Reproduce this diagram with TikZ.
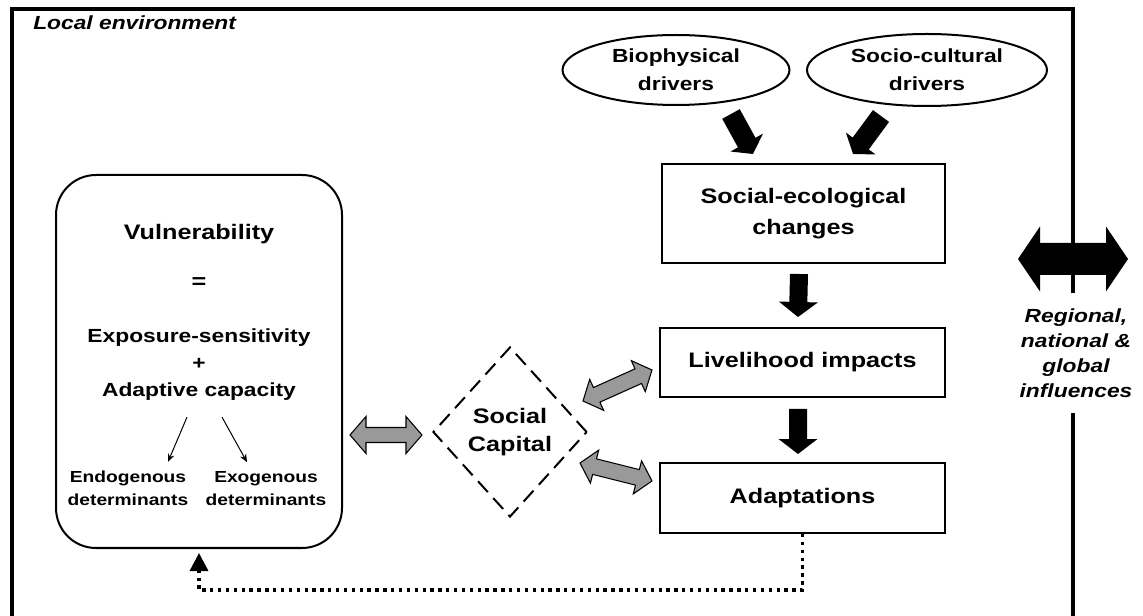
\documentclass[tikz,border=0pt]{standalone}
\usepackage{fontspec}
\setmainfont{Liberation Sans}[FakeStretch=1.2]
\usetikzlibrary{shapes.geometric,arrows.meta,calc}

% one drawing unit = 0.75pt
\newdimen\pxu \pxu=0.75pt
\definecolor{arrowgray}{rgb}{0.6,0.6,0.6}

% filled block arrow from #2 to #3 (shaft half-width #4, head half-width #5, head length #6)
\newcommand\blockarrow[6]{%
  \path let \p1=(#2), \p2=(#3) in \pgfextra{%
    \pgfmathsetmacro\baang{atan2(\y2-\y1,\x2-\x1)}%
    \pgfmathsetmacro\balen{veclen(\x2-\x1,\y2-\y1)/0.75}%
    \global\let\baAng\baang \global\let\baLen\balen};
  \begin{scope}[shift={(#2)},rotate=\baAng]
    \path[#1] (0,#4) -- ({\baLen-#6},#4) -- ({\baLen-#6},#5) -- (\baLen,0)
      -- ({\baLen-#6},-#5) -- ({\baLen-#6},-#4) -- (0,-#4) -- cycle;
  \end{scope}}

% filled two-headed block arrow between #2 and #3
\newcommand\twowayarrow[6]{%
  \path let \p1=(#2), \p2=(#3) in \pgfextra{%
    \pgfmathsetmacro\baang{atan2(\y2-\y1,\x2-\x1)}%
    \pgfmathsetmacro\balen{veclen(\x2-\x1,\y2-\y1)/0.75}%
    \global\let\baAng\baang \global\let\baLen\balen};
  \begin{scope}[shift={(#2)},rotate=\baAng]
    \path[#1] (0,0) -- (#6,#5) -- (#6,#4) -- ({\baLen-#6},#4) -- ({\baLen-#6},#5)
      -- (\baLen,0) -- ({\baLen-#6},-#5) -- ({\baLen-#6},-#4) -- (#6,-#4) -- (#6,-#5) -- cycle;
  \end{scope}}

\begin{document}
\begin{tikzpicture}[x=0.75pt,y=0.75pt,
  big/.style={font=\fontsize{15.75}{23.25}\selectfont\bfseries},
  mid/.style={font=\fontsize{14.25}{21}\selectfont\bfseries},
  small/.style={font=\fontsize{12}{17.25}\selectfont\bfseries},
  itlabel/.style={font=\fontsize{14.25}{18.75}\selectfont\bfseries\itshape},
  stagebox/.style={draw, line width=1.5pt, rectangle, align=center, inner sep=0pt},
  driver/.style={draw, line width=1.5pt, ellipse, align=center, inner sep=0pt, mid},
  plain/.style={inner sep=0pt, align=center},
  solidarrow/.style={fill=black},
  shadedarrow/.style={fill=arrowgray, draw=black, line width=0.8pt, line join=miter},
  feedback/.style={line width=2.5pt, dash pattern=on 2.5pt off 3.4pt,
    -{Triangle[length=13.5pt,width=13.5pt]}, shorten >=3pt},
  thinarrow/.style={line width=0.75pt, -{Stealth[length=6pt,width=5pt]}}
]
\useasboundingbox (0,0) rectangle (1143,-616);

% outer frame of the local environment
\draw[line width=3pt] (12,-9) rectangle (1073,-618);
\node[plain, itlabel, anchor=west] (local) at (33,-23) {Local environment};

% drivers
\node[driver, minimum width=227*\pxu, minimum height=70*\pxu] (bio) at (676,-70) {Biophysical\\drivers};
\node[driver, minimum width=240*\pxu, minimum height=72*\pxu] (soc) at (927,-70) {Socio-cultural\\drivers};

% chain of stages
\node[stagebox, big, minimum width=283*\pxu, minimum height=99*\pxu] (sec) at (803.5,-213.5) {Social-ecological\\changes};
\node[stagebox, big, minimum width=285*\pxu, minimum height=69*\pxu] (live) at (802.5,-362.5) {Livelihood impacts};
\node[stagebox, big, minimum width=285*\pxu, minimum height=70*\pxu] (adapt) at (802.5,-498) {Adaptations};

% vulnerability panel
\node[draw, line width=1.5pt, rounded corners=30pt, minimum width=286*\pxu, minimum height=373*\pxu] (vul) at (199,-361.5) {};
\node[plain, big] (vtitle) at (199,-234) {Vulnerability};
\node[plain, big] (veq) at (199,-283) {=};
\node[plain, font=\fontsize{14.25}{20.25}\selectfont\bfseries] (expo) at (199,-365) {Exposure-sensitivity\\+\\Adaptive capacity};
\node[plain, small] (endo) at (128,-488.5) {Endogenous\\determinants};
\node[plain, small] (exo) at (266,-488.5) {Exogenous\\determinants};
\draw[thinarrow] ($(expo.south)+(-12,-16)$) -- ($(endo.north)+(40,9)$);
\draw[thinarrow] ($(expo.south)+(23,-16)$) -- ($(exo.north)+(-19,9)$);

% social capital
\node[diamond, draw, line width=1.5pt, dash pattern=on 11pt off 6pt, aspect=0.9,
  inner sep=0pt, minimum width=154*\pxu, minimum height=170*\pxu, align=center,
  font=\fontsize{15.75}{21}\selectfont\bfseries] (sc) at (510,-432) {Social\\Capital};

% outside influences
\node[plain, itlabel, fill=white, inner xsep=3pt, minimum height=120*\pxu] (outside) at (1076,-353) {Regional,\\national \&\\global\\influences};
\coordinate (outA) at (1018,-259);
\coordinate (outB) at (1128,-259);
\twowayarrow{solidarrow}{outA}{outB}{16}{32.5}{22}

% driver arrows
\coordinate (b1a) at (731,-114);
\coordinate (b1b) at (753,-154);
\coordinate (b2a) at (881,-116);
\coordinate (b2b) at (853,-154);
\blockarrow{solidarrow}{b1a}{b1b}{10}{18.5}{13}
\blockarrow{solidarrow}{b2a}{b2b}{10}{18.5}{13}

% stage arrows
\coordinate (d1a) at ($(sec.south)+(-4.5,-10)$);
\coordinate (d1b) at ($(live.north)+(-4.5,10)$);
\coordinate (d2a) at ($(live.south)+(-4.5,-11)$);
\coordinate (d2b) at ($(adapt.north)+(-4.5,8)$);
\blockarrow{solidarrow}{d1a}{d1b}{9}{19.5}{15}
\blockarrow{solidarrow}{d2a}{d2b}{9}{19.5}{15}

% links through social capital
\coordinate (g1a) at ($(vul.east |- sc)+(7,-3)$);
\coordinate (g1b) at ($(sc.west)+(-10,-3)$);
\coordinate (g2a) at (583,-401);
\coordinate (g2b) at (652,-370);
\coordinate (g3a) at (580,-463);
\coordinate (g3b) at (652,-481);
\twowayarrow{shadedarrow}{g1a}{g1b}{7.5}{18.5}{16}
\twowayarrow{shadedarrow}{g2a}{g2b}{8}{17}{15}
\twowayarrow{shadedarrow}{g3a}{g3b}{8}{17}{15}

% feedback from adaptations to vulnerability
\draw[feedback] (adapt.south) -- ++(0,-56) -| (vul.south);
\end{tikzpicture}
\end{document}
